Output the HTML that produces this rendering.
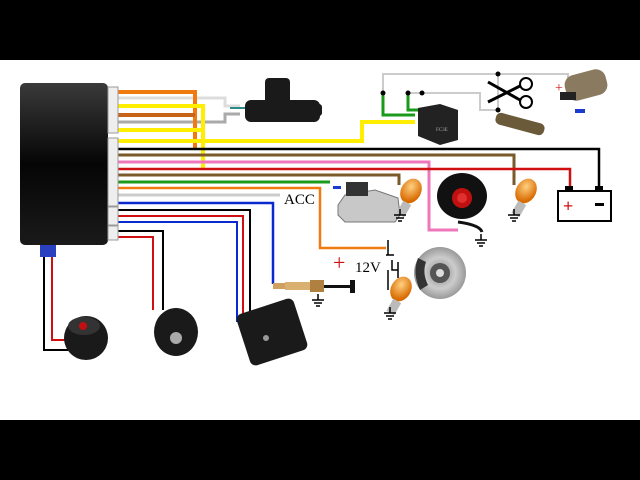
<!DOCTYPE html>
<html><head><meta charset="utf-8"><style>
html,body{margin:0;padding:0;background:#fff;}
svg{display:block}
text{font-family:"Liberation Serif",serif}
</style></head><body>
<svg width="640" height="480" viewBox="0 0 640 480" xmlns="http://www.w3.org/2000/svg">
<defs>
<linearGradient id="bx" x1="0" y1="0" x2="0" y2="1"><stop offset="0" stop-color="#3a3a3a"/><stop offset="0.5" stop-color="#050505"/><stop offset="1" stop-color="#1a1a1a"/></linearGradient>
<radialGradient id="bulb" cx="0.4" cy="0.35" r="0.6"><stop offset="0" stop-color="#ffd080"/><stop offset="1" stop-color="#d86a00"/></radialGradient>
<radialGradient id="disc" cx="0.5" cy="0.5" r="0.5"><stop offset="0" stop-color="#888"/><stop offset="0.6" stop-color="#ccc"/><stop offset="1" stop-color="#999"/></radialGradient>
<g id="gnd" stroke="#000" stroke-width="1.5"><line x1="0" y1="-6" x2="0" y2="0"/><line x1="-6" y1="0" x2="6" y2="0"/><line x1="-4" y1="3" x2="4" y2="3"/><line x1="-2" y1="6" x2="2" y2="6"/></g>
<g id="blb"><ellipse cx="9" cy="-12" rx="10" ry="13" fill="url(#bulb)" transform="rotate(30 9 -12)"/><rect x="-3" y="-2" width="9" height="14" fill="#bbb" transform="rotate(30 0 6)"/></g>
</defs>
<rect x="0" y="0" width="640" height="60" fill="#000"/>
<rect x="0" y="420" width="640" height="60" fill="#000"/>

<g fill="none" stroke-linejoin="miter">
<polyline points="383,115 383,74 568,74 568,85" stroke="#ccc" stroke-width="2"/>
<polyline points="408,110 408,93 480,93 480,110 498,110" stroke="#ccc" stroke-width="2"/>
<line x1="498" y1="74" x2="498" y2="112" stroke="#ccc" stroke-width="2"/>
<polyline points="383,93 383,115 415,115" stroke="#1a9a1a" stroke-width="3"/>
<polyline points="408,93 408,110 418,110" stroke="#1a9a1a" stroke-width="3"/>

<polyline points="118,98 225,98 225,106 240,106" stroke="#ddd" stroke-width="3"/>
<polyline points="118,122 225,122 225,114 240,114" stroke="#aaa" stroke-width="3"/>
<line x1="230" y1="108" x2="245" y2="108" stroke="#2a8a8a" stroke-width="2"/>

<polyline points="118,92 195,92 195,148" stroke="#f07a10" stroke-width="4"/>
<line x1="118" y1="115" x2="195" y2="115" stroke="#c8641a" stroke-width="4"/>
<polyline points="118,106 203,106 203,168" stroke="#ffee00" stroke-width="4"/>
<line x1="118" y1="130" x2="203" y2="130" stroke="#ffee00" stroke-width="4"/>
<polyline points="118,141 362,141 362,122 415,122" stroke="#ffee00" stroke-width="4"/>
<polyline points="118,149 599,149 599,188" stroke="#000" stroke-width="2.5"/>
<polyline points="118,155 514,155 514,185" stroke="#7a5a2a" stroke-width="3"/>
<polyline points="118,162 429,162 429,230 458,230" stroke="#ee77bb" stroke-width="3"/>
<polyline points="118,169 570,169 570,188" stroke="#d01010" stroke-width="2.5"/>
<polyline points="118,175 399,175 399,185" stroke="#7a5a2a" stroke-width="3"/>
<line x1="118" y1="182" x2="330" y2="182" stroke="#1a9a1a" stroke-width="3"/>
<polyline points="118,188 320,188 320,248 386,248" stroke="#f07a10" stroke-width="2.5"/>
<line x1="118" y1="195" x2="280" y2="195" stroke="#ccc" stroke-width="3"/>
<polyline points="118,203 273,203 273,284" stroke="#0a2ad0" stroke-width="2.5"/>
<polyline points="118,210 250,210 250,320" stroke="#000" stroke-width="2"/>
<polyline points="118,216 243,216 243,320" stroke="#d01010" stroke-width="2"/>
<polyline points="118,222 237,222 237,322" stroke="#0a2ad0" stroke-width="2"/>
<polyline points="118,231 163,231 163,310" stroke="#000" stroke-width="2"/>
<polyline points="118,237 153,237 153,310" stroke="#d01010" stroke-width="2"/>
<polyline points="44,255 44,350 68,350" stroke="#000" stroke-width="2"/>
<polyline points="52,255 52,340 68,340" stroke="#d01010" stroke-width="2"/>
</g>

<rect x="20" y="83" width="88" height="162" rx="5" fill="url(#bx)"/>
<g fill="#eee" stroke="#999" stroke-width="1">
<rect x="108" y="87" width="10" height="46"/><rect x="108" y="138" width="10" height="68"/>
<rect x="108" y="207" width="10" height="18"/><rect x="108" y="226" width="10" height="14"/>
</g>
<rect x="40" y="245" width="16" height="12" fill="#2a40c0"/>

<g fill="#1a1a1a"><rect x="265" y="78" width="25" height="30" rx="4"/><rect x="245" y="100" width="75" height="22" rx="6"/><rect x="300" y="104" width="22" height="12" rx="3"/></g>

<g fill="#000"><circle cx="383" cy="93" r="2.5"/><circle cx="408" cy="93" r="2.5"/><circle cx="422" cy="93" r="2.5"/><circle cx="498" cy="74" r="2.5"/><circle cx="498" cy="110" r="2.5"/></g>
<path d="M418,108 L440,104 L458,110 L458,140 L440,145 L418,136 Z" fill="#222"/>
<text x="436" y="131" font-size="5" fill="#aaa">FC3E</text>
<g stroke="#000" stroke-width="3" fill="none"><line x1="488" y1="82" x2="520" y2="100"/><line x1="488" y1="102" x2="520" y2="86"/><circle cx="526" cy="84" r="6" stroke-width="2"/><circle cx="526" cy="102" r="6" stroke-width="2"/></g>
<rect x="495" y="118" width="50" height="12" rx="5" fill="#6a5a3a" transform="rotate(15 520 124)"/>
<rect x="565" y="72" width="42" height="26" rx="10" fill="#8a7a60" transform="rotate(-15 586 85)"/>
<rect x="560" y="92" width="16" height="8" fill="#222"/>
<text x="555" y="92" font-size="14" fill="#d01010" font-family="Liberation Sans">+</text>
<rect x="575" y="109" width="10" height="4" fill="#1a3ad0"/>

<path d="M338,205 L345,195 L375,190 L398,198 L400,215 L395,222 L345,222 L338,215 Z" fill="#c8c8c8" stroke="#777"/>
<rect x="346" y="182" width="22" height="14" fill="#333"/>
<rect x="333" y="186" width="8" height="3" fill="#1a3ad0"/>
<use href="#blb" x="402" y="203"/><use href="#gnd" x="400" y="215"/>
<use href="#blb" x="517" y="203"/><use href="#gnd" x="514" y="215"/>
<use href="#blb" x="392" y="301"/><use href="#gnd" x="390" y="313"/>
<ellipse cx="462" cy="196" rx="25" ry="23" fill="#111"/>
<circle cx="462" cy="198" r="10" fill="#c01010"/><circle cx="462" cy="198" r="5" fill="#e03030"/>
<path d="M458,222 Q480,225 482,232" stroke="#111" stroke-width="3" fill="none"/>
<use href="#gnd" x="481" y="240"/>
<rect x="558" y="191" width="53" height="30" fill="#fff" stroke="#000" stroke-width="2"/>
<rect x="565" y="186" width="8" height="5" fill="#000"/><rect x="595" y="186" width="8" height="5" fill="#000"/>
<text x="563" y="212" font-size="18" fill="#d01010" font-weight="bold" font-family="Liberation Sans">+</text>
<rect x="595" y="203" width="9" height="3" fill="#000"/>

<text x="284" y="204" font-size="15" fill="#000">ACC</text>
<g stroke="#000" stroke-width="1.5" fill="none"><polyline points="388,240 388,255"/><polyline points="392,260 392,270 398,270"/><line x1="398" y1="262" x2="398" y2="278"/><line x1="388" y1="270" x2="388" y2="290"/><line x1="386" y1="255" x2="394" y2="255"/></g>
<text x="333" y="270" font-size="22" fill="#d01010" font-family="Liberation Sans">+</text>
<text x="355" y="272" font-size="15" fill="#000">12V</text>
<circle cx="440" cy="273" r="26" fill="url(#disc)"/><circle cx="440" cy="273" r="10" fill="#555"/><circle cx="440" cy="273" r="4" fill="#ddd"/>
<path d="M418,258 Q412,273 420,290 L428,285 Q422,273 426,262 Z" fill="#333"/>

<rect x="273" y="283" width="12" height="6" fill="#cfa060"/>
<rect x="285" y="282" width="25" height="8" fill="#d9b070"/>
<rect x="310" y="280" width="14" height="12" fill="#b08040"/>
<rect x="324" y="285" width="28" height="3" fill="#111"/><rect x="350" y="280" width="5" height="13" fill="#111"/>
<use href="#gnd" x="318" y="300"/>

<rect x="242" y="305" width="60" height="54" rx="6" fill="#1a1a1a" transform="rotate(-18 272 332)"/>
<circle cx="266" cy="338" r="3" fill="#999"/>
<ellipse cx="176" cy="332" rx="22" ry="24" fill="#1a1a1a"/><circle cx="176" cy="338" r="6" fill="#aaa"/>
<ellipse cx="86" cy="338" rx="22" ry="22" fill="#1a1a1a"/><ellipse cx="84" cy="326" rx="16" ry="9" fill="#333"/><circle cx="83" cy="326" r="4" fill="#c01010"/>
</svg>
</body></html>
